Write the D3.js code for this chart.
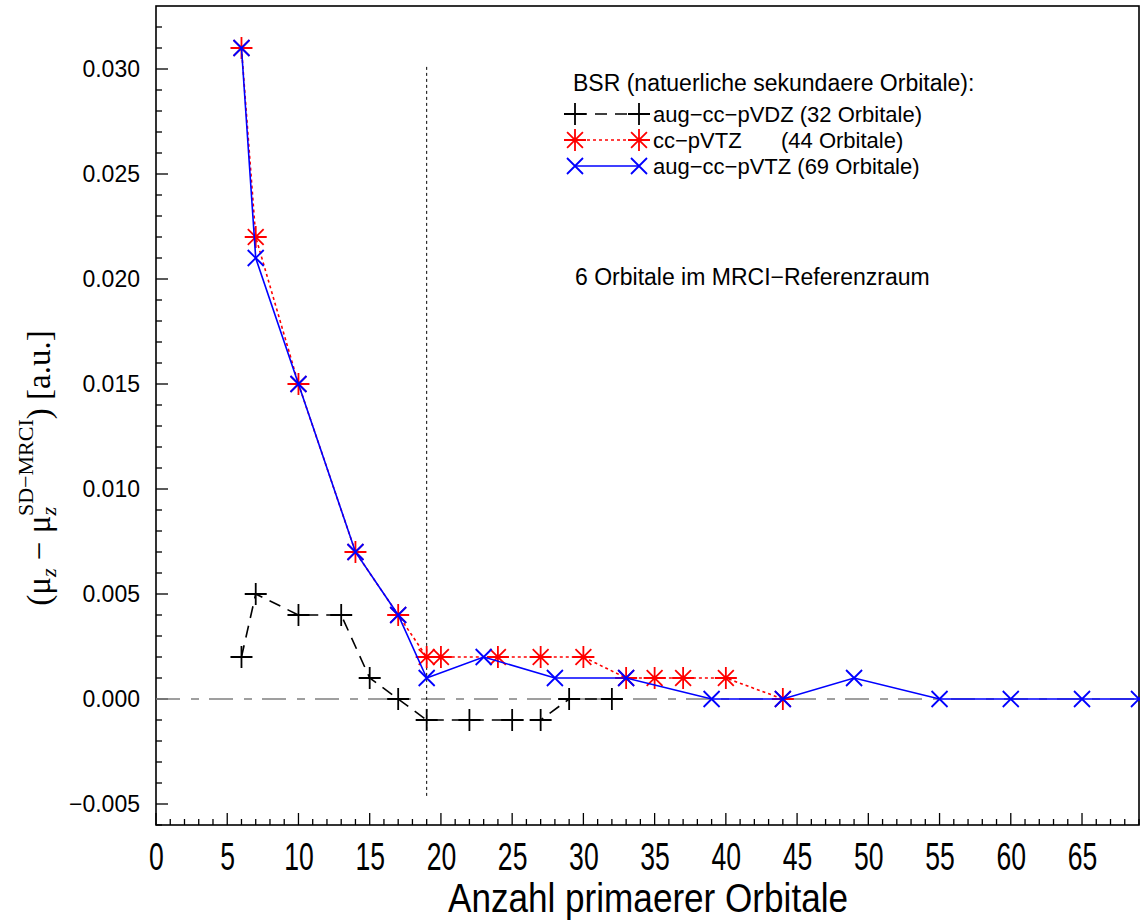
<!DOCTYPE html>
<html>
<head>
<meta charset="utf-8">
<script src="https://cdn.jsdelivr.net/npm/d3@7"></script>
<style>
  body { margin: 0; background: #fff; }
  text { font-family: "Liberation Sans", Arial, sans-serif; fill: #000; }
</style>
</head>
<body>
<div class="container"></div>
<script>
// svg container
var svgWidth = 1140;
var svgHeight = 922;

// plot frame in page pixels
var frame = { left: 156, right: 1139, top: 6, bottom: 825 };

// data
var vdzX = [6, 7, 10, 13, 15, 17, 19, 22, 25, 27, 29, 32];
var vdzY = [0.002, 0.005, 0.004, 0.004, 0.001, 0.000, -0.001, -0.001, -0.001, -0.001, 0.000, 0.000];

var vtzX = [6, 7, 10, 14, 17, 19, 20, 24, 27, 30, 33, 35, 37, 40, 44];
var vtzY = [0.031, 0.022, 0.015, 0.007, 0.004, 0.002, 0.002, 0.002, 0.002, 0.002, 0.001, 0.001, 0.001, 0.001, 0.000];

var augVtzX = [6, 7, 10, 14, 17, 19, 23, 28, 33, 39, 44, 49, 55, 60, 65, 69];
var augVtzY = [0.031, 0.021, 0.015, 0.007, 0.004, 0.001, 0.002, 0.001, 0.001, 0.000, 0.000, 0.001, 0.000, 0.000, 0.000, 0.000];

var xTicks = [0, 5, 10, 15, 20, 25, 30, 35, 40, 45, 50, 55, 60, 65];
var yTicks = [-0.005, 0.000, 0.005, 0.010, 0.015, 0.020, 0.025, 0.030];

var legendTitle = "BSR (natuerliche sekundaere Orbitale):";
var legendNames = ["aug\u2212cc\u2212pVDZ (32 Orbitale)", "cc\u2212pVTZ", "aug\u2212cc\u2212pVTZ (69 Orbitale)"];
var legendCounts = ["", "(44 Orbitale)", ""];
var refSpaceNote = "6 Orbitale im MRCI\u2212Referenzraum";
var refSpaceX = 19;

var svg = d3.select(".container")
  .append("svg")
  .attr("width", svgWidth)
  .attr("height", svgHeight);

// scales
var x = d3.scaleLinear().domain([0, 69]).range([frame.left, frame.right]);
var y = d3.scaleLinear().domain([-0.006, 0.033]).range([frame.bottom, frame.top]);

// minor ticks (inward)
var xMinor = d3.range(0, 70, 1);
var yMinor = d3.range(-6, 33, 1).map(d => d / 1000);

svg.append("g").selectAll("line")
  .data(xMinor).enter().append("line")
  .attr("x1", d => x(d)).attr("x2", d => x(d))
  .attr("y1", frame.bottom).attr("y2", d => frame.bottom - (d % 5 === 0 ? 12 : 6))
  .attr("stroke", "#000").attr("stroke-width", 1.3);

svg.append("g").selectAll("line")
  .data(yMinor).enter().append("line")
  .attr("x1", frame.left).attr("x2", d => frame.left + (Math.round(d * 1000) % 5 === 0 ? 12 : 6))
  .attr("y1", d => y(d)).attr("y2", d => y(d))
  .attr("stroke", "#000").attr("stroke-width", 1.3);

// tick labels via axes
var bottomAxis = d3.axisBottom(x).tickValues(xTicks).tickSize(0).tickPadding(0).tickFormat(d3.format("d"));
var gx = svg.append("g")
  .attr("transform", `translate(0, ${frame.bottom})`)
  .call(bottomAxis);
gx.select(".domain").remove();
gx.selectAll("text")
  .attr("font-size", 38)
  .attr("font-family", "Liberation Sans, Arial, sans-serif")
  .attr("fill", "#000")
  .attr("dy", null)
  .attr("y", 0)
  .attr("transform", "translate(0,45) scale(0.7,1)");

var leftAxis = d3.axisLeft(y).tickValues(yTicks).tickSize(0).tickPadding(16)
  .tickFormat(d => d3.format(".3f")(d).replace("-", "\u2212"));
var gy = svg.append("g")
  .attr("transform", `translate(${frame.left}, 0)`)
  .call(leftAxis);
gy.select(".domain").remove();
gy.selectAll("text")
  .attr("font-size", 23)
  .attr("font-family", "Liberation Sans, Arial, sans-serif")
  .attr("fill", "#000");

// frame
svg.append("rect")
  .attr("x", frame.left).attr("y", frame.top)
  .attr("width", frame.right - frame.left).attr("height", frame.bottom - frame.top)
  .attr("fill", "none").attr("stroke", "#000").attr("stroke-width", 1.6);

// zero line (dash-dot)
svg.append("line")
  .attr("x1", x(0)).attr("x2", x(69))
  .attr("y1", y(0)).attr("y2", y(0))
  .attr("stroke", "#808080").attr("stroke-width", 1.6)
  .attr("stroke-dasharray", "24,11,8,10");

// reference space line
svg.append("line")
  .attr("x1", x(refSpaceX)).attr("x2", x(refSpaceX))
  .attr("y1", y(0.0301)).attr("y2", y(-0.0047))
  .attr("stroke", "#000").attr("stroke-width", 1)
  .attr("stroke-dasharray", "3,3");

// marker shapes
function plusPath(s) { return `M${-s},0H${s}M0,${-s}V${s}`; }
function crossPath(s) { return `M${-s},${-s}L${s},${s}M${-s},${s}L${s},${-s}`; }
function starPath(s) {
  var d = s * 0.72;
  return plusPath(s) + `M${-d},${-d}L${d},${d}M${-d},${d}L${d},${-d}`;
}

var series = [
  { xs: vdzX, ys: vdzY, color: "#000", dash: "12,8", marker: plusPath(11) },
  { xs: vtzX, ys: vtzY, color: "#ff0000", dash: "3,3", marker: starPath(11) },
  { xs: augVtzX, ys: augVtzY, color: "#0000ff", dash: null, marker: crossPath(8) }
];

var line = d3.line().x(d => x(d[0])).y(d => y(d[1]));

series.forEach(function(s) {
  var pts = s.xs.map((v, i) => [v, s.ys[i]]);
  svg.append("path")
    .datum(pts)
    .attr("d", line)
    .attr("fill", "none")
    .attr("stroke", s.color)
    .attr("stroke-width", 1.6)
    .attr("stroke-dasharray", s.dash);
  svg.append("g").selectAll("path")
    .data(pts).enter().append("path")
    .attr("transform", d => `translate(${x(d[0])},${y(d[1])})`)
    .attr("d", s.marker)
    .attr("fill", "none")
    .attr("stroke", s.color)
    .attr("stroke-width", 1.8);
});

// legend
var legend = svg.append("g");
legend.append("text")
  .attr("x", 573).attr("y", 91)
  .attr("font-size", 23)
  .text(legendTitle);

var rowY = [114, 140, 166];
var countX = [0, 781, 0];
series.forEach(function(s, i) {
  legend.append("line")
    .attr("x1", 575).attr("x2", 639)
    .attr("y1", rowY[i]).attr("y2", rowY[i])
    .attr("stroke", s.color).attr("stroke-width", 1.6)
    .attr("stroke-dasharray", s.dash);
  [575, 639].forEach(function(mx) {
    legend.append("path")
      .attr("transform", `translate(${mx},${rowY[i]})`)
      .attr("d", s.marker)
      .attr("fill", "none").attr("stroke", s.color).attr("stroke-width", 1.8);
  });
  legend.append("text")
    .attr("x", 653).attr("y", rowY[i] + 8)
    .attr("font-size", 22)
    .text(legendNames[i]);
  if (legendCounts[i]) {
    legend.append("text")
      .attr("x", countX[i]).attr("y", rowY[i] + 8)
      .attr("font-size", 22)
      .text(legendCounts[i]);
  }
});

svg.append("text")
  .attr("x", 575).attr("y", 285)
  .attr("font-size", 23)
  .text(refSpaceNote);

// axis titles
svg.append("text")
  .attr("x", 648).attr("y", 912)
  .attr("text-anchor", "middle")
  .attr("font-size", 40)
  .attr("textLength", 400)
  .attr("lengthAdjust", "spacingAndGlyphs")
  .text("Anzahl primaerer Orbitale");

var yTitle = svg.append("text")
  .attr("transform", "translate(50, 468) rotate(-90)")
  .attr("text-anchor", "middle")
  .attr("font-size", 33)
  .style("font-family", "Liberation Serif, Times New Roman, serif");
yTitle.append("tspan").text("(\u03bc");
yTitle.append("tspan").attr("font-size", 22).attr("font-style", "italic").attr("dy", 6).text("z");
yTitle.append("tspan").attr("dy", -6).text(" \u2212 \u03bc");
yTitle.append("tspan").attr("font-size", 22).attr("font-style", "italic").attr("dy", 6).text("z");
yTitle.append("tspan").attr("font-size", 22).attr("dx", -9).attr("dy", -23).text("SD\u2212MRCI");
yTitle.append("tspan").attr("dy", 17).text(") [a.u.]");
</script>
</body>
</html>
